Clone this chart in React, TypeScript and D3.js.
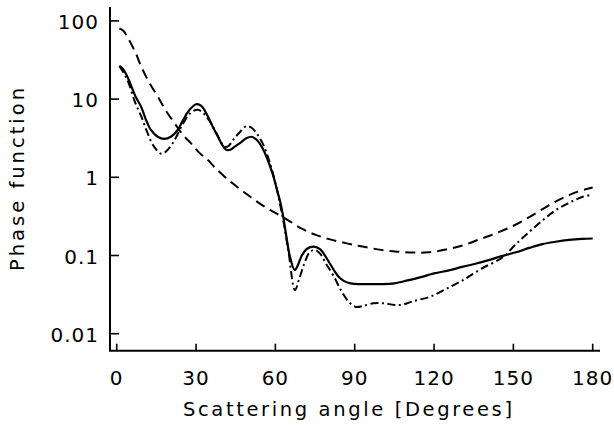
import React from "react";
import * as d3 from "d3";

const xTicks = [0, 30, 60, 90, 120, 150, 180];
const yTicks = [0.01, 0.1, 1, 10, 100];
const yTickLabels = ["0.01", "0.1", "1", "10", "100"];

const solidAngles = [1, 2.5, 4.3, 7, 9.3, 11, 13, 15.5, 18, 20.5, 23, 25, 27, 30, 32, 34.5, 36.5, 38.3, 39.9, 41.4, 42.9, 44.5, 47, 49, 51, 53, 55, 57, 59, 61, 62, 63, 64, 65.5, 67.3, 68.5, 70, 72, 74.5, 77, 79, 82, 84, 86, 88.5, 92, 96, 100, 105, 110, 115, 120, 126, 131, 136, 141, 146, 151, 156, 161, 166, 171, 176, 180];
const solidValues = [26.5, 24, 18.5, 11, 7.9, 5.5, 4.0, 3.3, 3.1, 3.3, 4.0, 5.3, 6.9, 8.6, 8.2, 6.0, 4.3, 3.3, 2.6, 2.25, 2.25, 2.45, 2.8, 3.15, 3.3, 3.0, 2.4, 1.7, 1.1, 0.62, 0.46, 0.31, 0.19, 0.097, 0.065, 0.075, 0.1, 0.122, 0.13, 0.12, 0.097, 0.066, 0.053, 0.047, 0.044, 0.043, 0.043, 0.043, 0.044, 0.048, 0.053, 0.059, 0.065, 0.072, 0.079, 0.088, 0.099, 0.11, 0.125, 0.14, 0.15, 0.158, 0.163, 0.165];

const dashedAngles = [1, 2.5, 4.3, 7, 9.3, 12, 15.6, 18.5, 21.9, 25, 28.2, 31, 34.5, 37, 40.8, 45, 50, 55, 60, 65, 70, 75, 80, 87, 93, 100, 106, 112, 118, 125, 131, 137, 143, 150, 156, 162, 168, 174, 180];
const dashedValues = [80, 75, 60, 40, 26, 17, 10.7, 7.2, 4.9, 3.5, 2.7, 2.1, 1.66, 1.35, 1.02, 0.78, 0.58, 0.44, 0.35, 0.28, 0.22, 0.185, 0.163, 0.143, 0.13, 0.118, 0.112, 0.109, 0.11, 0.12, 0.135, 0.16, 0.19, 0.24, 0.31, 0.41, 0.53, 0.65, 0.74];

const dashDotAngles = [1, 2.5, 4.3, 7, 9.3, 11.5, 14, 16.9, 19, 21.9, 25, 28, 30.7, 33, 35.5, 38, 39.5, 40.8, 42.2, 44, 46, 49, 51, 53, 55, 57, 59, 61, 63, 65, 67.4, 69, 71, 73, 75, 77, 79, 82, 85, 88, 90.5, 93, 97, 101, 105, 108, 112, 118.5, 125, 131, 138, 146, 151, 156, 161, 166, 171, 176, 180];
const dashDotValues = [26.5, 22, 16.7, 9, 6, 3.8, 2.5, 2.0, 2.2, 3.0, 4.8, 6.7, 7.3, 6.5, 5.0, 3.5, 2.8, 2.46, 2.5, 3.0, 3.6, 4.5, 4.3, 3.6, 2.8, 1.9, 1.15, 0.6, 0.28, 0.11, 0.036, 0.05, 0.08, 0.11, 0.118, 0.105, 0.08, 0.055, 0.035, 0.025, 0.022, 0.0225, 0.0245, 0.0245, 0.0233, 0.0235, 0.026, 0.0297, 0.038, 0.0486, 0.068, 0.095, 0.14, 0.2, 0.28, 0.38, 0.47, 0.56, 0.6];

const W = 614;
const H = 425;
const left = 110;
const right = 600;
const top = 7;
const bottom = 350.7;

const FONT = "'DejaVu Sans', sans-serif";

export default function App() {
  const x = d3.scaleLinear().domain([0, 180]).range([116.7, 592.7]);
  const y = d3.scaleLog().domain([1, 100]).range([177.3, 20.9]);

  const line = d3
    .line<[number, number]>()
    .x((d) => x(d[0]))
    .y((d) => y(d[1]))
    .curve(d3.curveCatmullRom.alpha(0.5));

  const zip = (a: number[], b: number[]) => a.map((v, i) => [v, b[i]] as [number, number]);

  return (
    <svg
      width={W}
      height={H}
      style={{ position: "absolute", left: 0, top: 0, background: "#fff" }}
      fontFamily={FONT}
    >
      <rect x={0} y={0} width={W} height={H} fill="#fff" />
      {/* axes */}
      <line x1={left} y1={top} x2={left} y2={bottom} stroke="#000" strokeWidth={2} />
      <line x1={left - 1} y1={bottom} x2={right} y2={bottom} stroke="#000" strokeWidth={2} />
      {xTicks.map((t) => (
        <g key={"xt" + t}>
          <line x1={x(t)} x2={x(t)} y1={bottom} y2={bottom - 7} stroke="#000" strokeWidth={1.6} />
          <text x={x(t)} y={384.5} textAnchor="middle" fontSize={20} letterSpacing={1}>
            {t}
          </text>
        </g>
      ))}
      {yTicks.map((t, i) => (
        <g key={"yt" + t}>
          <line x1={left} x2={left + 9} y1={y(t)} y2={y(t)} stroke="#000" strokeWidth={1.6} />
          <text x={99} y={y(t) + 8} textAnchor="end" fontSize={20} letterSpacing={1}>
            {yTickLabels[i]}
          </text>
        </g>
      ))}
      <text x={347.5} y={415.5} textAnchor="middle" fontSize={19.5} textLength={329} lengthAdjust="spacing">
        Scattering angle [Degrees]
      </text>
      <text
        transform={`translate(24,179.5) rotate(-90)`}
        textAnchor="middle"
        fontSize={19.5}
        textLength={183}
        lengthAdjust="spacing"
      >
        Phase function
      </text>
      {/* curves */}
      <path d={line(zip(dashedAngles, dashedValues)) || ""} fill="none" stroke="#000" strokeWidth={2} strokeDasharray="10,6" />
      <path d={line(zip(dashDotAngles, dashDotValues)) || ""} fill="none" stroke="#000" strokeWidth={2} strokeDasharray="8,3.5,2,3.5" />
      <path d={line(zip(solidAngles, solidValues)) || ""} fill="none" stroke="#000" strokeWidth={2.2} />
    </svg>
  );
}
